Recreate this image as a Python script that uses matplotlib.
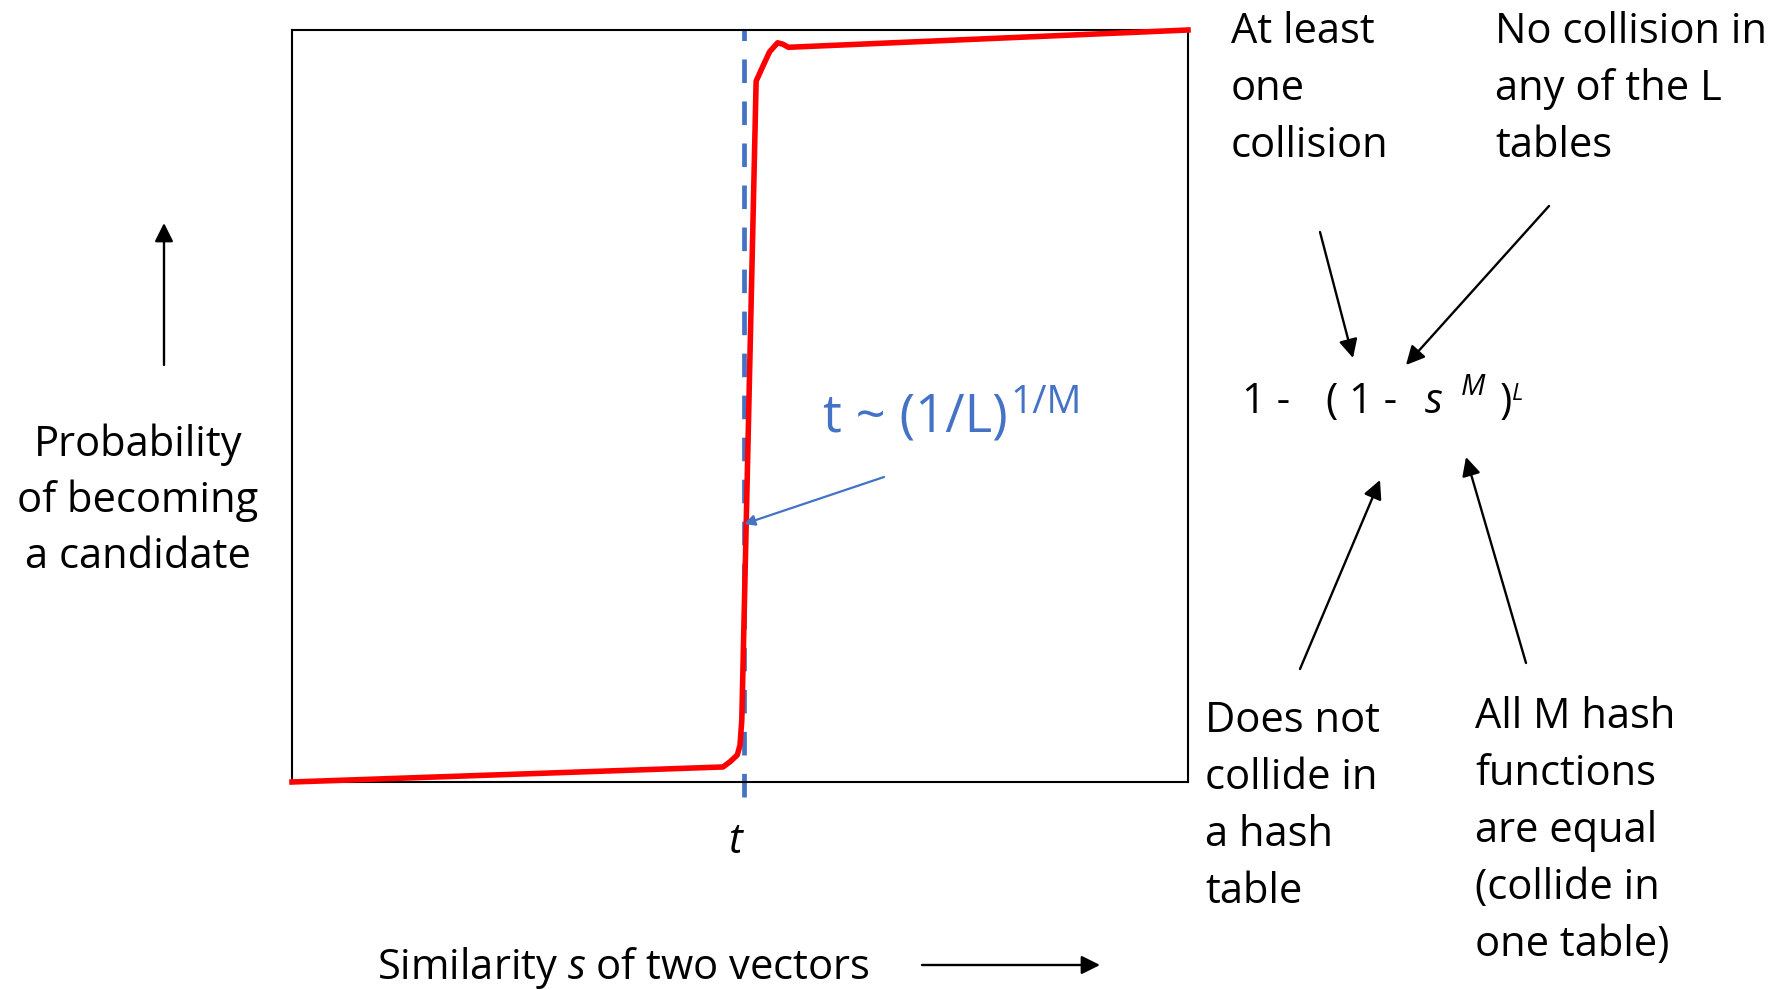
import matplotlib
matplotlib.use("Agg")
import matplotlib.pyplot as plt

plt.rcParams['font.family'] = ['Open Sans', 'DejaVu Sans']
plt.rcParams['mathtext.fontset'] = 'custom'
plt.rcParams['mathtext.rm'] = 'Open Sans'
plt.rcParams['mathtext.it'] = 'Open Sans:italic'

# S-curve: probability of becoming a candidate vs similarity
s_vals = [0.000, 0.481, 0.489, 0.497, 0.500, 0.502, 0.518, 0.526, 0.533, 0.542, 0.548, 0.554, 1.000]
p_vals = [0.000, 0.020, 0.027, 0.036, 0.049, 0.082, 0.932, 0.953, 0.971, 0.983, 0.981, 0.977, 1.000]
t_val = 0.5045

W, H = 1787, 990
BLUE = '#4472C4'
FS = 30


def fxy(x, y):
    # pixel (from top-left) -> figure fraction
    return x / W, 1 - y / H


def lines(x, y0, txt, pitch=57, ha='left', **kw):
    for i, ln in enumerate(txt.split('\n')):
        fig.text(*fxy(x, y0 + i * pitch), ln, ha=ha, va='baseline', fontsize=FS, **kw)


def arrow(x0, y0, x1, y1, color='black', lw=1.7, ms=28):
    fig.add_artist(matplotlib.patches.FancyArrowPatch(
        fxy(x0, y0), fxy(x1, y1), transform=fig.transFigure,
        arrowstyle='-|>', mutation_scale=ms, color=color, lw=lw,
        shrinkA=0, shrinkB=0))


fig = plt.figure(figsize=(W / 100, H / 100), dpi=100)
ax = fig.add_axes([292 / W, 1 - 782 / H, 896 / W, 752 / H])
ax.set_xlim(0, 1)
ax.set_ylim(0, 1)
ax.set_xticks([])
ax.set_yticks([])
for sp in ax.spines.values():
    sp.set_linewidth(1.5)

ax.plot([t_val, t_val], [-0.02, 1.0], color=BLUE, lw=3.4, dashes=(5.0, 3.9), clip_on=False, zorder=2)
ax.plot(s_vals, p_vals, color='red', lw=4.0, solid_joinstyle='round', clip_on=False, zorder=3)

# axis labels
lines(138, 456, 'Probability\nof becoming\na candidate', pitch=56, ha='center')
arrow(164, 365, 164, 223)
fig.text(*fxy(377, 979), r'Similarity $\mathit{s}$ of two vectors', ha='left', va='baseline', fontsize=FS)
arrow(922, 965, 1100, 965)
fig.text(*fxy(735, 853), 't', ha='center', va='baseline', fontsize=FS, style='italic')

# threshold label
fig.text(*fxy(823, 432), 't ~ (1/L)', ha='left', va='baseline', fontsize=38, color=BLUE)
fig.text(*fxy(1010, 413), '1/M', ha='left', va='baseline', fontsize=28, color=BLUE)
arrow(884, 477, 744, 524, color=BLUE, lw=1.6, ms=16)

# formula
fy = 413
fig.text(*fxy(1242, fy), '1 -', ha='left', va='baseline', fontsize=30)
fig.text(*fxy(1325, fy), '(', ha='left', va='baseline', fontsize=30)
fig.text(*fxy(1349, fy), '1 -', ha='left', va='baseline', fontsize=30)
fig.text(*fxy(1425, fy), 's', ha='left', va='baseline', fontsize=30, style='italic')
fig.text(*fxy(1461, 395), 'M', ha='left', va='baseline', fontsize=21, style='italic')
fig.text(*fxy(1500, fy), ')', ha='left', va='baseline', fontsize=30)
fig.text(*fxy(1512, 400), 'L', ha='left', va='baseline', fontsize=17, style='italic')

# annotations
lines(1231, 43, 'At least\none\ncollision')
lines(1495, 43, 'No collision in\nany of the L\ntables')
lines(1205, 732, 'Does not\ncollide in\na hash\ntable')
lines(1475, 728, 'All M hash\nfunctions\nare equal\n(collide in\none table)')

arrow(1320, 232, 1353, 358)
arrow(1549, 206, 1406, 365)
arrow(1300, 669, 1380, 480)
arrow(1526, 663, 1466, 457)

fig.savefig('out.png', dpi=100)
